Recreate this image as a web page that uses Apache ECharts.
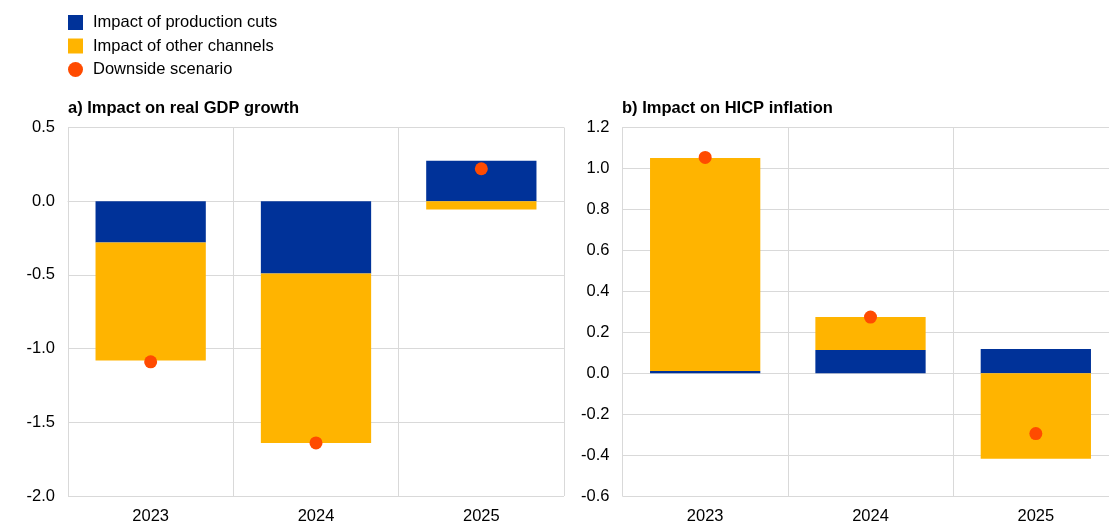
<!DOCTYPE html>
<html>
<head>
<meta charset="utf-8">
<script src="https://cdn.jsdelivr.net/npm/echarts@6/dist/echarts.min.js"></script>
<style>
html,body{margin:0;padding:0;background:#fff;overflow:hidden;}
#c{width:1125px;height:531px;}
</style>
</head>
<body>
<div id="c"></div>
<script>
var categories = ['2023', '2024', '2025'];
var gdpProductionCuts = [-0.28, -0.49, 0.275];
var gdpOtherChannels = [-0.80, -1.15, -0.057];
var gdpDownside = [-1.09, -1.64, 0.22];
var hicpProductionCuts = [0.011, 0.113, 0.118];
var hicpOtherChannels = [1.04, 0.161, -0.418];
var hicpDownside = [1.054, 0.274, -0.295];
var titleA = 'a) Impact on real GDP growth';
var titleB = 'b) Impact on HICP inflation';
var seriesNames = ['Impact of production cuts', 'Impact of other channels', 'Downside scenario'];

var BLUE = '#003299', YELLOW = '#FFB400', ORANGE = '#FF4B00';
var FONT = 'Liberation Sans, Arial, sans-serif';
var FS = 16.5;
var gridColor = '#d9d9d9';

function xAxis(gi) {
  return {
    type: 'category', gridIndex: gi, data: categories,
    axisLine: {show: true, lineStyle: {color: gridColor, width: 1}},
    axisTick: {show: false},
    splitLine: {show: true, lineStyle: {color: gridColor, width: 1}},
    axisLabel: {color: '#000', fontSize: FS, fontFamily: FONT, margin: 12}
  };
}
function yAxis(gi, min, max, interval, dec) {
  return {
    type: 'value', gridIndex: gi, min: min, max: max, interval: interval,
    axisLine: {show: true, lineStyle: {color: gridColor, width: 1}},
    axisTick: {show: false},
    splitLine: {show: true, lineStyle: {color: gridColor, width: 1}},
    axisLabel: {color: '#000', fontSize: FS, fontFamily: FONT, margin: 13,
      formatter: function (v) { return v.toFixed(dec); }}
  };
}

var chart = echarts.init(document.getElementById('c'), null, {renderer: 'canvas'});
chart.setOption({
  animation: false,
  backgroundColor: '#fff',
  title: [
    {text: titleA, left: 68, top: 100, padding: 0, textStyle: {fontSize: FS, fontWeight: 'bold', color: '#000', fontFamily: FONT}},
    {text: titleB, left: 622, top: 100, padding: 0, textStyle: {fontSize: FS, fontWeight: 'bold', color: '#000', fontFamily: FONT}}
  ],
  legend: {
    orient: 'vertical', left: 68, top: 14, padding: 0,
    itemWidth: 15, itemHeight: 15, itemGap: 6.5,
    data: [
      {name: seriesNames[0], icon: 'rect'},
      {name: seriesNames[1], icon: 'rect'},
      {name: seriesNames[2], icon: 'circle'}
    ],
    textStyle: {fontSize: FS, lineHeight: 16, color: '#000', fontFamily: FONT, padding: [0, 0, 0, 5]}
  },
  grid: [
    {left: 68, width: 496, top: 127.5, bottom: 35},
    {left: 622.5, width: 496, top: 127.5, bottom: 35}
  ],
  xAxis: [xAxis(0), xAxis(1)],
  yAxis: [yAxis(0, -2, 0.5, 0.5, 1), yAxis(1, -0.6, 1.2, 0.2, 1)],
  series: [
    {name: seriesNames[0], type: 'bar', stack: 'a', xAxisIndex: 0, yAxisIndex: 0, data: gdpProductionCuts, barWidth: '66.7%', itemStyle: {color: BLUE}},
    {name: seriesNames[1], type: 'bar', stack: 'a', xAxisIndex: 0, yAxisIndex: 0, data: gdpOtherChannels, barWidth: '66.7%', itemStyle: {color: YELLOW}},
    {name: seriesNames[2], type: 'scatter', xAxisIndex: 0, yAxisIndex: 0, data: gdpDownside, symbolSize: 13, itemStyle: {color: ORANGE, opacity: 1}, z: 5},
    {name: seriesNames[0], type: 'bar', stack: 'b', xAxisIndex: 1, yAxisIndex: 1, data: hicpProductionCuts, barWidth: '66.7%', itemStyle: {color: BLUE}},
    {name: seriesNames[1], type: 'bar', stack: 'b', xAxisIndex: 1, yAxisIndex: 1, data: hicpOtherChannels, barWidth: '66.7%', itemStyle: {color: YELLOW}},
    {name: seriesNames[2], type: 'scatter', xAxisIndex: 1, yAxisIndex: 1, data: hicpDownside, symbolSize: 13, itemStyle: {color: ORANGE, opacity: 1}, z: 5}
  ]
});
</script>
</body>
</html>
